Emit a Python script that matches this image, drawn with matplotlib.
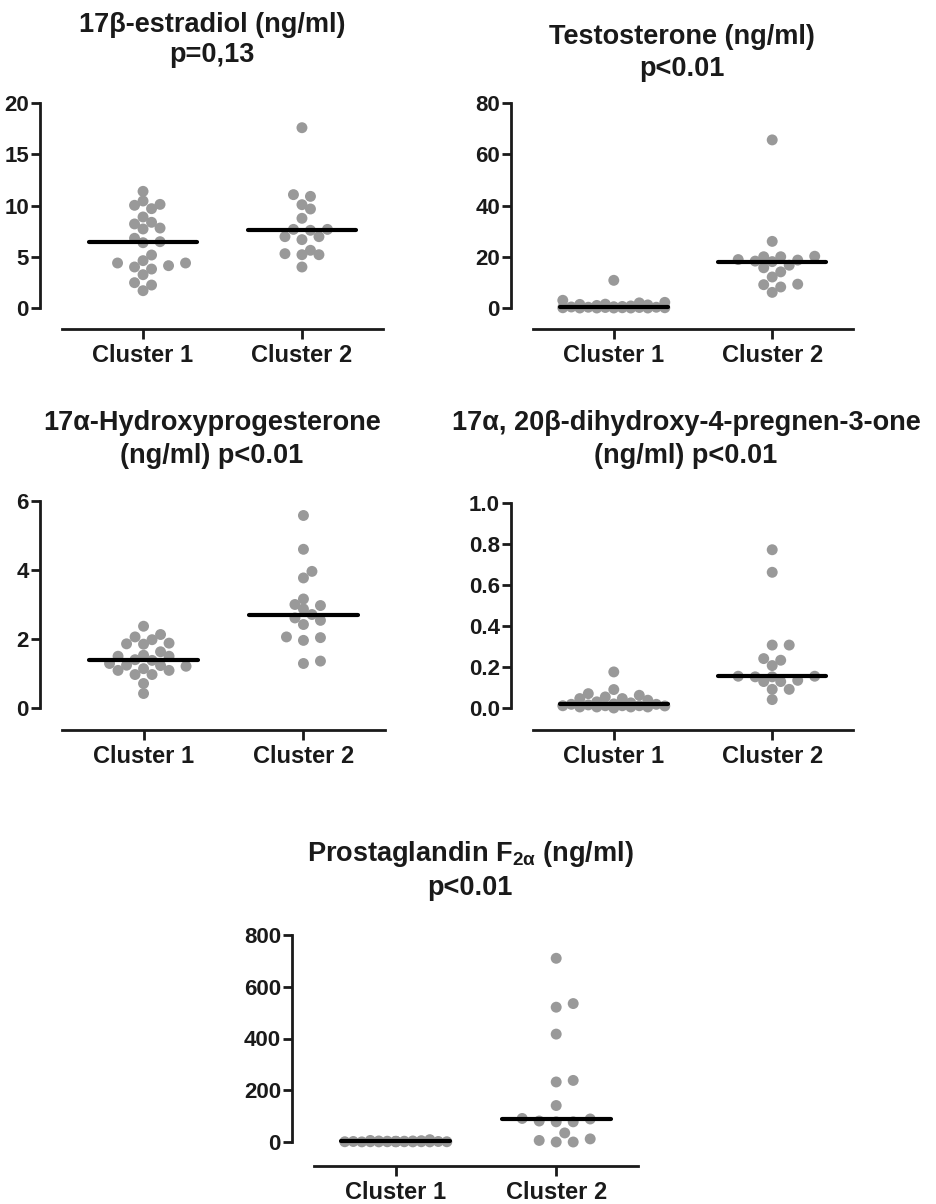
import numpy as np
import matplotlib
matplotlib.use('Agg')
import matplotlib.pyplot as plt

plt.rcParams['font.family'] = ['Liberation Sans', 'DejaVu Sans']
plt.rcParams['font.weight'] = 'bold'
plt.rcParams['mathtext.fontset'] = 'custom'
plt.rcParams['mathtext.rm'] = 'Liberation Sans:bold'
plt.rcParams['mathtext.it'] = 'Liberation Sans:bold'
plt.rcParams['mathtext.bf'] = 'Liberation Sans:bold'

groups = ['Cluster 1', 'Cluster 2']

# values (ng/ml)
estradiol_c1 = [10.44, 9.69, 10.02, 10.11, 11.38, 7.80, 8.36, 8.20, 8.88, 7.71, 6.80, 6.37,
                6.47, 5.17, 4.62, 4.39, 4.00, 3.80, 4.13, 4.39, 3.25, 2.47, 2.24, 1.69]
estradiol_c2 = [17.59, 11.06, 10.89, 10.08, 9.66, 8.75, 7.67, 7.58, 7.67, 6.96, 6.67, 6.96,
                5.63, 5.20, 5.20, 5.30, 4.00]

testo_c1 = [10.8, 3.0, 2.2, 2.0, 1.5, 1.4, 1.2, 1.0, 0.8, 0.6, 0.5, 0.4,
            0.3, 0.3, 0.2, 0.2, 0.1, 0.1, 0.1, 0.0, 0.0, 0.0, 0.0, 0.0]
testo_c2 = [65.6, 26.0, 18.7, 20.2, 20.0, 18.9, 20.0, 18.3, 18.1, 16.7, 15.7, 14.1,
            12.1, 9.1, 9.3, 8.2, 6.1]

ohp_c1 = [2.37, 2.13, 2.06, 1.98, 1.88, 1.86, 1.85, 1.63, 1.53, 1.50, 1.50, 1.38,
          1.40, 1.24, 1.21, 1.23, 1.29, 1.09, 1.09, 1.14, 0.97, 0.97, 0.71, 0.42]
ohp_c2 = [5.58, 4.60, 3.96, 3.77, 3.16, 2.97, 3.00, 2.87, 2.71, 2.54, 2.61, 2.42,
          2.04, 2.06, 1.96, 1.36, 1.29]

dhp_c1 = [0.176, 0.090, 0.070, 0.062, 0.054, 0.046, 0.046, 0.038, 0.030, 0.025, 0.020, 0.018,
          0.018, 0.015, 0.011, 0.011, 0.011, 0.011, 0.010, 0.005, 0.005, 0.005, 0.005, 0.000]
dhp_c2 = [0.772, 0.662, 0.307, 0.307, 0.233, 0.241, 0.207, 0.155, 0.152, 0.155, 0.152, 0.129,
          0.129, 0.135, 0.091, 0.091, 0.041]

pgf_c1 = [9, 6, 5, 4, 4, 3, 3, 3, 2, 2, 2, 2, 2, 1, 1, 1, 1, 1, 1, 0.5, 0.5, 0.5, 0.5, 0.5]
pgf_c2 = [710, 521, 535, 417, 232, 238, 141, 89, 78, 78, 81, 91, 35, 6, 0, 0, 12]

titles = [
    ['17\u03b2-estradiol (ng/ml)', 'p=0,13'],
    ['Testosterone (ng/ml)', 'p<0.01'],
    ['17\u03b1-Hydroxyprogesterone', '(ng/ml) p<0.01'],
    ['17\u03b1, 20\u03b2-dihydroxy-4-pregnen-3-one', '(ng/ml) p<0.01'],
    ['Prostaglandin F$_{\\mathrm{2\u03b1}}$ (ng/ml)', 'p<0.01'],
]
yticks = [
    [0, 5, 10, 15, 20],
    [0, 20, 40, 60, 80],
    [0, 2, 4, 6],
    [0.0, 0.2, 0.4, 0.6, 0.8, 1.0],
    [0, 200, 400, 600, 800],
]
data = [(estradiol_c1, estradiol_c2), (testo_c1, testo_c2), (ohp_c1, ohp_c2),
        (dhp_c1, dhp_c2), (pgf_c1, pgf_c2)]

# layout in pixels: (left, top, right, bottom, zero_px, title_x, baseline1, baseline2)
layout = [
    (62, 103, 383, 329, 308, 212, 32, 62),
    (533, 103, 853, 329, 308, 682, 44, 76),
    (62, 501, 385, 730, 708, 212, 430, 463),
    (533, 503, 853, 730, 708, 686, 430, 463),
    (314, 935, 638, 1166, 1142, 470, 861, 895),
]

W, H = 937, 1204
dot = '#999999'
ink = '#1a1a1a'
XLIM = (-0.51, 1.51)


def swarm(vals, center, ypx, xpx, step=8.5, min_d=9.5, max_k=6):
    vals = np.asarray(vals, dtype=float)
    offs = np.zeros(len(vals))
    placed = []
    cands = [0] + [s * k for k in range(1, max_k + 1) for s in (1, -1)]
    for i in np.argsort(vals, kind='stable'):
        y = vals[i] * ypx
        best_x, best_d = 0.0, -1.0
        for k in cands:
            x = k * step
            d = min((np.hypot(x - px, y - py) for px, py in placed), default=np.inf)
            if d >= min_d:
                best_x = x
                break
            if d > best_d + 0.5:
                best_d, best_x = d, x
        offs[i] = best_x
        placed.append((best_x, y))
    return center + offs / xpx


fig = plt.figure(figsize=(W / 100, H / 100), dpi=100)

for idx, (l, t, r, b, z, tx, b1, b2) in enumerate(layout):
    ax = fig.add_axes([l / W, 1 - b / H, (r - l) / W, (b - t) / H])
    top = yticks[idx][-1]
    low = -top * (b - z) / (z - t)
    ax.set_ylim(low, top)
    ax.set_xlim(*XLIM)
    ypx = (b - t) / (top - low)
    xpx = (r - l) / (XLIM[1] - XLIM[0])

    for g, vals in enumerate(data[idx]):
        xs = swarm(vals, g, ypx, xpx)
        ax.scatter(xs, vals, s=62, color=dot, edgecolors='none', zorder=2, clip_on=False)
        med = np.median(vals)
        ax.plot([g - 0.34, g + 0.34], [med, med], color='black', lw=3,
                solid_capstyle='round', zorder=3)

    for side in ['top', 'right']:
        ax.spines[side].set_visible(False)
    ax.spines['left'].set_position(('outward', 15.8))
    ax.spines['left'].set_bounds(0, top)
    for side in ['left', 'bottom']:
        ax.spines[side].set_linewidth(2)
        ax.spines[side].set_color(ink)

    ax.set_yticks(yticks[idx])
    if idx == 3:
        ax.set_yticklabels(['%.1f' % v for v in yticks[idx]])
    else:
        ax.set_yticklabels([str(v) for v in yticks[idx]])
    ax.set_xticks([0, 1])
    ax.set_xticklabels(groups)
    ax.tick_params(axis='y', length=6.5, width=2, color=ink, labelsize=16, pad=1.5,
                   labelcolor=ink)
    ax.tick_params(axis='x', length=7, width=2, color=ink, labelsize=17, pad=4,
                   labelcolor=ink)
    for lab in ax.get_xticklabels() + ax.get_yticklabels():
        lab.set_fontweight('bold')

    fig.text(tx / W, 1 - b1 / H, titles[idx][0], ha='center', va='baseline',
             fontsize=19.5, fontweight='bold', color=ink)
    fig.text(tx / W, 1 - b2 / H, titles[idx][1], ha='center', va='baseline',
             fontsize=19.5, fontweight='bold', color=ink)

fig.savefig('out.png', dpi=100, facecolor='white')
